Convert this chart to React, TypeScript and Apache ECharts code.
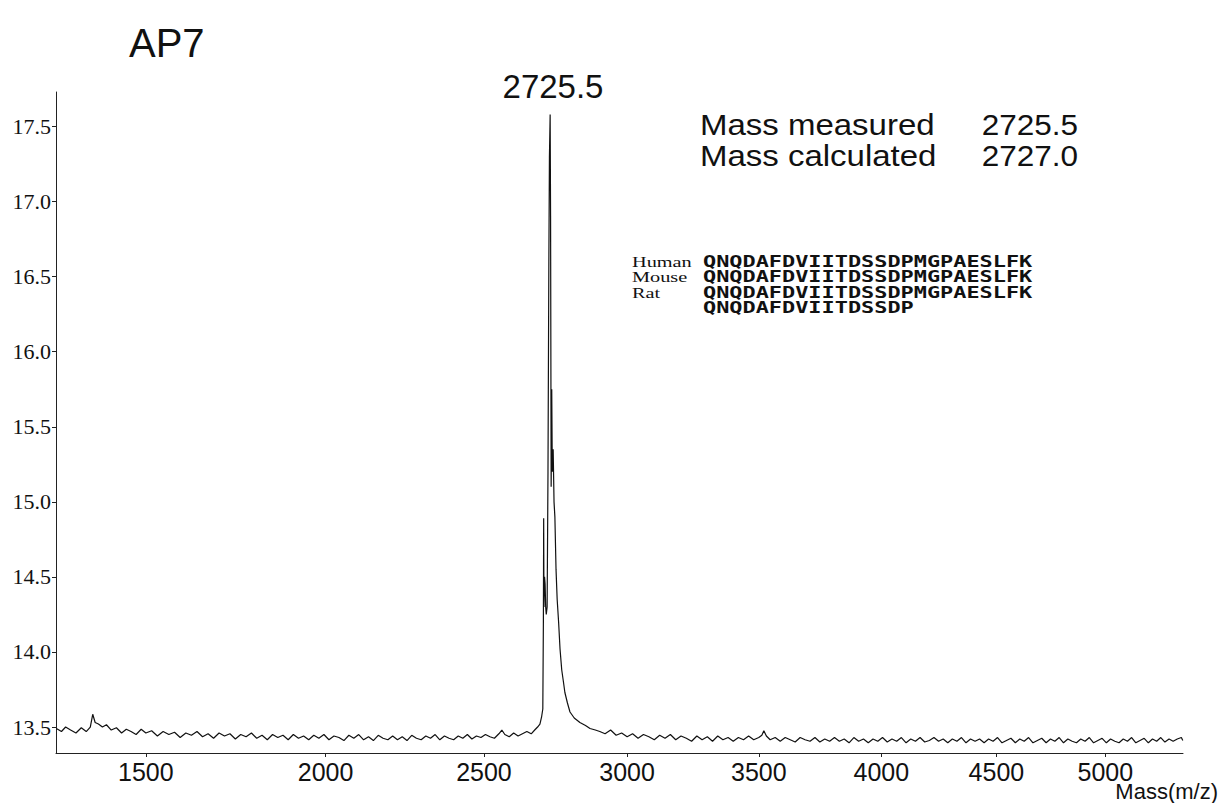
import React, { useEffect, useRef } from "react";
import * as echarts from "echarts";

// x ticks (m/z) and y ticks (intensity)
const xTickMasses = [1500, 2000, 2500, 3000, 3500, 4000, 4500, 5000];
const yTickValues = [13.5, 14.0, 14.5, 15.0, 15.5, 16.0, 16.5, 17.0, 17.5];

// spectrum: [mass, intensity]
const baselineLeft: [number, number][] = [
  [1278, 13.49], [1290, 13.47], [1300, 13.5], [1312, 13.48], [1325, 13.46], [1338, 13.495],
  [1350, 13.47], [1360, 13.5], [1366, 13.585], [1372, 13.53], [1380, 13.52], [1390, 13.5],
  [1400, 13.515], [1412, 13.48], [1425, 13.495], [1438, 13.46], [1450, 13.485], [1462, 13.47],
  [1475, 13.45], [1488, 13.485], [1500, 13.46], [1515, 13.475], [1530, 13.44], [1545, 13.47],
  [1560, 13.45], [1575, 13.465], [1590, 13.43], [1605, 13.46], [1620, 13.445], [1635, 13.47],
  [1650, 13.435], [1665, 13.455], [1680, 13.425], [1695, 13.46], [1710, 13.44], [1725, 13.455],
  [1740, 13.42], [1755, 13.45], [1770, 13.435], [1785, 13.46], [1800, 13.425], [1815, 13.445],
  [1830, 13.415], [1845, 13.45], [1860, 13.43], [1875, 13.445], [1890, 13.415], [1905, 13.45],
  [1920, 13.425], [1935, 13.44], [1950, 13.415], [1965, 13.445], [1980, 13.425], [1995, 13.45],
  [2010, 13.415], [2025, 13.44], [2040, 13.43], [2055, 13.41], [2070, 13.445], [2085, 13.425],
  [2100, 13.45], [2115, 13.415], [2130, 13.435], [2145, 13.41], [2160, 13.445], [2175, 13.425],
  [2190, 13.415], [2205, 13.44], [2220, 13.415], [2235, 13.435], [2250, 13.41], [2265, 13.445],
  [2280, 13.425], [2295, 13.415], [2310, 13.44], [2325, 13.425], [2340, 13.45], [2355, 13.415],
  [2370, 13.44], [2385, 13.425], [2400, 13.415], [2415, 13.44], [2430, 13.425], [2445, 13.45],
  [2460, 13.42], [2475, 13.44], [2490, 13.43], [2505, 13.45], [2520, 13.435], [2535, 13.425],
  [2550, 13.455], [2560, 13.48], [2570, 13.45], [2585, 13.435], [2600, 13.46], [2615, 13.44],
  [2630, 13.455], [2645, 13.47], [2660, 13.455], [2672, 13.48], [2682, 13.5],
];

const peakProfile: [number, number][] = [
  [2690, 13.52], [2696, 13.57], [2700, 13.62], [2702, 14.2], [2703, 14.89], [2704, 14.3],
  [2706, 14.5], [2708, 14.45], [2710, 14.3], [2712, 14.25], [2715, 14.3], [2718, 15.2],
  [2721, 16.6], [2723, 17.3], [2725.5, 17.58], [2727, 16.9], [2729, 15.1], [2731, 15.75],
  [2733, 15.2], [2736, 15.35], [2739, 15.0], [2742, 14.9], [2746, 14.55], [2750, 14.35],
  [2755, 14.2], [2760, 14.02], [2766, 13.88], [2772, 13.8], [2777, 13.73], [2786, 13.66],
  [2795, 13.6], [2810, 13.56], [2830, 13.53], [2850, 13.51], [2866, 13.49], [2885, 13.48],
];

const baselineRight: [number, number][] = [
  [2901, 13.47], [2920, 13.455], [2940, 13.48], [2960, 13.445], [2980, 13.46], [3000, 13.435],
  [3020, 13.455], [3040, 13.425], [3060, 13.45], [3080, 13.435], [3100, 13.415], [3120, 13.445],
  [3140, 13.425], [3160, 13.45], [3180, 13.415], [3200, 13.44], [3220, 13.425], [3240, 13.405],
  [3260, 13.44], [3280, 13.415], [3300, 13.435], [3320, 13.405], [3340, 13.44], [3360, 13.415],
  [3380, 13.43], [3400, 13.405], [3420, 13.43], [3440, 13.415], [3460, 13.44], [3480, 13.415],
  [3500, 13.43], [3512, 13.445], [3520, 13.475], [3530, 13.44], [3545, 13.415], [3565, 13.43],
  [3585, 13.405], [3605, 13.43], [3625, 13.415], [3645, 13.4], [3665, 13.43], [3685, 13.415],
  [3705, 13.405], [3725, 13.43], [3745, 13.4], [3765, 13.42], [3785, 13.405], [3805, 13.43],
  [3825, 13.405], [3845, 13.42], [3865, 13.395], [3885, 13.43], [3905, 13.405], [3925, 13.42],
  [3945, 13.395], [3965, 13.42], [3985, 13.405], [4005, 13.43], [4025, 13.4], [4045, 13.42],
  [4065, 13.405], [4085, 13.43], [4105, 13.395], [4125, 13.42], [4145, 13.405], [4165, 13.43],
  [4185, 13.4], [4205, 13.41], [4225, 13.43], [4245, 13.405], [4265, 13.42], [4285, 13.395],
  [4305, 13.42], [4325, 13.405], [4345, 13.43], [4365, 13.395], [4385, 13.42], [4405, 13.405],
  [4425, 13.42], [4445, 13.395], [4465, 13.42], [4485, 13.405], [4505, 13.43], [4525, 13.395],
  [4545, 13.41], [4565, 13.425], [4585, 13.395], [4605, 13.42], [4625, 13.405], [4645, 13.43],
  [4665, 13.395], [4685, 13.41], [4705, 13.425], [4725, 13.395], [4745, 13.42], [4765, 13.405],
  [4785, 13.43], [4805, 13.395], [4825, 13.42], [4845, 13.405], [4865, 13.395], [4885, 13.42],
  [4905, 13.405], [4925, 13.43], [4945, 13.395], [4965, 13.41], [4985, 13.425], [5005, 13.395],
  [5025, 13.42], [5045, 13.405], [5065, 13.395], [5085, 13.42], [5105, 13.405], [5125, 13.43],
  [5145, 13.395], [5165, 13.41], [5185, 13.425], [5205, 13.395], [5225, 13.42], [5245, 13.405],
  [5265, 13.43], [5285, 13.4], [5305, 13.42], [5325, 13.405], [5345, 13.42], [5365, 13.43],
  [5372, 13.41],
];

const massRange = [1277, 5373];
const intensityRange = [13.327, 17.73];

const sequenceRows = [
  { species: "Human", seq: "QNQDAFDVIITDSSDPMGPAESLFK" },
  { species: "Mouse", seq: "QNQDAFDVIITDSSDPMGPAESLFK" },
  { species: "Rat", seq: "QNQDAFDVIITDSSDPMGPAESLFK" },
  { species: "", seq: "QNQDAFDVIITDSSDP" },
];

const massInfo = [
  { label: "Mass measured", value: "2725.5" },
  { label: "Mass calculated", value: "2727.0" },
];

const SANS = "'Liberation Sans', Arial, sans-serif";
const SERIF = "'Liberation Serif', 'Times New Roman', serif";

export default function App() {
  const ref = useRef<HTMLDivElement>(null);

  useEffect(() => {
    if (!ref.current) return;
    const chart = echarts.init(ref.current, undefined, { renderer: "svg" });

    const spectrum = [...baselineLeft, ...peakProfile, ...baselineRight].map(
      ([m, v]) => [Math.sqrt(m), v]
    );

    const seqGraphics: any[] = [];
    sequenceRows.forEach((row, i) => {
      const y = 262 + i * 15.3;
      if (row.species) {
        seqGraphics.push({
          type: "text",
          x: 632,
          y,
          scaleX: 1.4,
          style: {
            text: row.species,
            fontFamily: SERIF,
            fontSize: 14.5,
            fill: "#111",
            align: "left",
            verticalAlign: "middle",
          },
        });
      }
      seqGraphics.push({
        type: "text",
        x: 703,
        y,
        scaleX: 1.46,
        style: {
          text: row.seq,
          fontFamily: "'DejaVu Sans Mono', monospace",
          fontWeight: "bold",
          fontSize: 15,
          fill: "#111",
          align: "left",
          verticalAlign: "middle",
        },
      });
    });

    const infoGraphics: any[] = [];
    massInfo.forEach((row, i) => {
      const y = 125 + i * 31;
      infoGraphics.push({
        type: "text",
        x: 700,
        y,
        scaleX: 1.1,
        style: {
          text: row.label,
          fontFamily: SANS,
          fontSize: 30,
          fill: "#111",
          align: "left",
          verticalAlign: "middle",
        },
      });
      infoGraphics.push({
        type: "text",
        x: 1078,
        y,
        scaleX: 1.05,
        style: {
          text: row.value,
          fontFamily: SANS,
          fontSize: 30,
          fill: "#111",
          align: "right",
          verticalAlign: "middle",
        },
      });
    });

    chart.setOption({
      animation: false,
      backgroundColor: "#ffffff",
      grid: {
        left: 56,
        right: 40,
        top: 92,
        bottom: 50,
        containLabel: false,
        outerBoundsMode: "none",
      },
      xAxis: {
        type: "value",
        min: Math.sqrt(massRange[0]),
        max: Math.sqrt(massRange[1]),
        axisLine: { show: true, lineStyle: { color: "#222", width: 1 } },
        axisTick: {
          show: true,
          length: 4,
          customValues: xTickMasses.map((m) => Math.sqrt(m)),
          lineStyle: { color: "#222" },
        },
        axisLabel: {
          show: true,
          customValues: xTickMasses.map((m) => Math.sqrt(m)),
          formatter: (v: number) => String(Math.round(v * v)),
          fontFamily: SANS,
          fontSize: 25,
          color: "#111",
          margin: 6,
        },
        splitLine: { show: false },
      },
      yAxis: {
        type: "value",
        min: intensityRange[0],
        max: intensityRange[1],
        axisLine: { show: true, lineStyle: { color: "#222", width: 1 } },
        axisTick: {
          show: true,
          length: 4,
          customValues: yTickValues,
          lineStyle: { color: "#222" },
        },
        axisLabel: {
          show: true,
          customValues: yTickValues,
          formatter: (v: number) => v.toFixed(1),
          fontFamily: SERIF,
          fontSize: 22,
          color: "#111",
          margin: 5,
        },
        splitLine: { show: false },
      },
      series: [
        {
          type: "line",
          data: spectrum,
          showSymbol: false,
          symbol: "none",
          lineStyle: { color: "#111", width: 1.2 },
          silent: true,
        },
      ],
      graphic: [
        {
          type: "text",
          x: 129,
          y: 43,
          style: {
            text: "AP7",
            fontFamily: SANS,
            fontSize: 40,
            fill: "#111",
            align: "left",
            verticalAlign: "middle",
          },
        },
        {
          type: "text",
          x: 553,
          y: 86,
          style: {
            text: "2725.5",
            fontFamily: SANS,
            fontSize: 33,
            fill: "#111",
            align: "center",
            verticalAlign: "middle",
          },
        },
        ...infoGraphics,
        ...seqGraphics,
        {
          type: "text",
          x: 1218,
          y: 802,
          style: {
            text: "Mass(m/z)",
            fontFamily: SANS,
            fontSize: 22,
            fill: "#111",
            align: "right",
            verticalAlign: "bottom",
          },
        },
      ],
    });

    return () => chart.dispose();
  }, []);

  return (
    <div
      ref={ref}
      style={{ position: "fixed", left: 0, top: 0, width: 1223, height: 803, background: "#fff" }}
    />
  );
}
